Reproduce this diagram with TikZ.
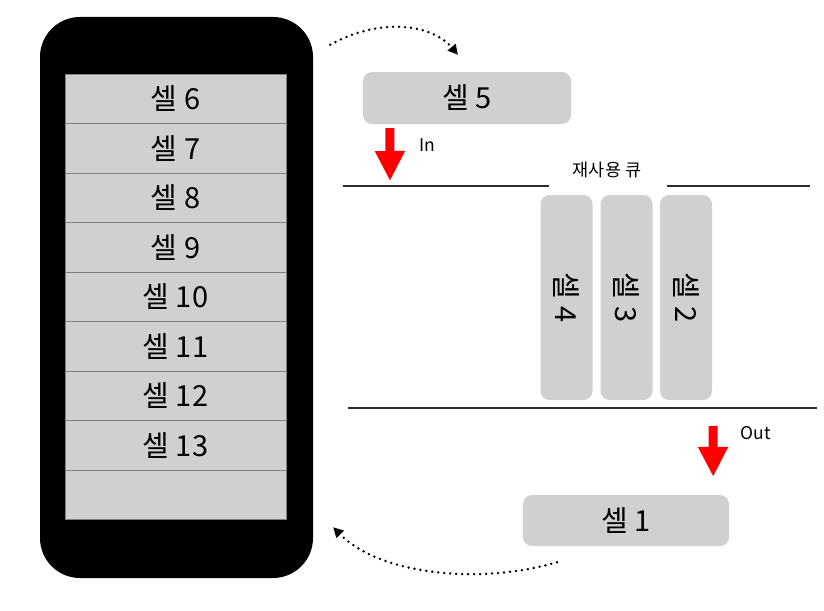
\documentclass[tikz,border=0pt]{standalone}
\usepackage{fontspec}
\setmainfont{Noto Sans CJK KR}
\usetikzlibrary{arrows.meta}
\definecolor{cellgray}{RGB}{208,208,208}
\definecolor{linegray}{RGB}{45,45,45}
\tikzset{
  row/.style={draw=gray, line width=1pt, fill=cellgray, minimum width=221pt, minimum height=49.5pt, inner sep=0pt, font=\fontsize{29}{34}\selectfont},
  cellbox/.style={fill=cellgray, rounded corners=9pt, inner sep=0pt, font=\fontsize{29}{34}\selectfont},
  pusharrow/.style={red, line width=9pt, -{Triangle[width=28pt,length=30pt]}},
  hop/.style={line width=2.7pt, dash pattern=on 0pt off 6pt, line cap=round, -{Triangle[width=10pt,length=10pt]}},
  queueline/.style={linegray, line width=1.6pt},
  smalllabel/.style={font=\fontsize{17.5}{20}\selectfont}
}
\begin{document}
\begin{tikzpicture}[x=1pt, y=-1pt]
  \useasboundingbox (0,0) rectangle (824,610);

  % phone body and its list of rows
  \node[fill=black, rounded corners=40pt, minimum width=273pt, minimum height=561pt] (phone) at (176.5,297.5) {};
  \foreach \n [count=\i from 0] in {6,...,13}
    \node[row] (row\n) at (175.5,98.75+49.5*\i) {셀 \n};
  \node[row] (rowblank) at (175.5,98.75+49.5*8) {};

  % cells outside the screen
  \node[cellbox, minimum width=208pt, minimum height=52pt] (cell5) at (467,98) {셀 5};
  \node[cellbox, minimum width=206pt, minimum height=51pt] (cell1) at (626,520.5) {셀 1};

  % reuse queue
  \draw[queueline] (343,186) -- (549,186);
  \draw[queueline] (667,186) -- (810,186);
  \node[smalllabel] (qlabel) at (607,170) {재사용 큐};
  \draw[queueline] (348,408) -- (817,408);
  \foreach \n/\x in {4/566.5, 3/626.5, 2/686}
    \node[cellbox, rotate=-90, minimum width=205pt, minimum height=52pt] (cell\n) at (\x,297.5) {셀 \n};

  % in and out
  \coordinate (inTip) at (390,181);
  \draw[pusharrow] ([xshift=27pt, yshift=-4pt]cell5.south west) -- (inTip);
  \node[smalllabel] (inlabel) at (427,145) {In};
  \coordinate (outTop) at (713,426);
  \draw[pusharrow] (outTop) -- ([xshift=-16pt, yshift=18pt]cell1.north east);
  \node[smalllabel] (outlabel) at (756,433) {Out};

  % dotted hops between phone and queue
  \draw[hop] ([xshift=17pt, yshift=-28pt]phone.north east) .. controls (380,17) and (432,24) .. ([xshift=-9pt, yshift=17pt]cell5.north);
  \draw[hop] ([xshift=-69pt, yshift=-16pt]cell1.south) .. controls (480,585) and (380,575) .. ([xshift=20pt, yshift=51pt]phone.south east);
\end{tikzpicture}
\end{document}
